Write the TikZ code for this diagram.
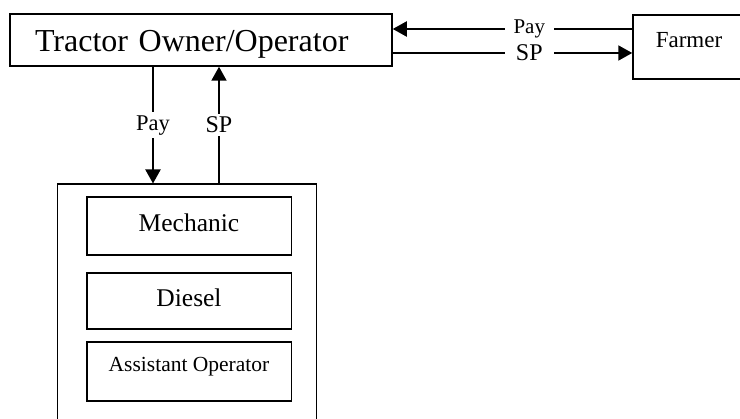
\documentclass[tikz,border=0pt]{standalone}
\usepackage{fontspec}
\setmainfont{Liberation Serif}
\usetikzlibrary{arrows.meta}
\begin{document}
\begin{tikzpicture}[x=1pt,y=-1pt,
  box/.style={draw, line width=1.5pt, rectangle, inner sep=0pt},
  flow/.style={line width=2pt, -{Triangle[length=14pt,width=15pt]}},
  tag/.style={fill=white, inner xsep=4pt, inner ysep=3pt},
  htag/.style={tag, minimum width=49pt},
  member/.style={box, minimum width=204.5pt, text height=18pt, text depth=7pt,
    font=\fontsize{25.5}{30}\selectfont},
]
\path[use as bounding box, clip] (0,0) rectangle (740,419);

% main actors
\node[box, minimum height=52pt, text width=332pt, inner xsep=25pt, align=left,
  text height=24pt, text depth=0pt, font=\fontsize{32}{38}\selectfont]
  (owner) at (201,40) {Tractor Owner/Operator};
\node[box, minimum width=112pt, minimum height=64pt, text height=15pt, text depth=13pt,
  font=\fontsize{23}{27}\selectfont] (farmer) at (689,47) {Farmer};

% service crew
\node[box, minimum width=259pt, minimum height=255.5pt] (crew) at (187,312) {};
\node[member, minimum height=58pt] (mech) at (189,226) {Mechanic};
\node[member, minimum height=56pt] (diesel) at (189,301) {Diesel};
\node[box, minimum width=204.5pt, minimum height=59pt, text height=15pt, text depth=15pt,
  font=\fontsize{21.5}{26}\selectfont] (assist) at (189,371.5) {Assistant Operator};

% payments and services
\draw[flow] (farmer.west |- 0,29) -- node[htag, pos=0.43, font=\fontsize{21}{25}\selectfont] {Pay} (owner.east |- 0,29);
\draw[flow] (owner.east |- 0,53) -- node[htag, pos=0.57, font=\fontsize{24}{28}\selectfont] {SP} (farmer.west |- 0,53);
\draw[flow] (owner.south -| 153,0) -- node[tag, font=\fontsize{22.5}{27}\selectfont] {Pay} (crew.north -| 153,0);
\draw[flow] (crew.north -| 219,0) -- node[tag, font=\fontsize{24}{28}\selectfont] {SP} (owner.south -| 219,0);
\end{tikzpicture}
\end{document}
